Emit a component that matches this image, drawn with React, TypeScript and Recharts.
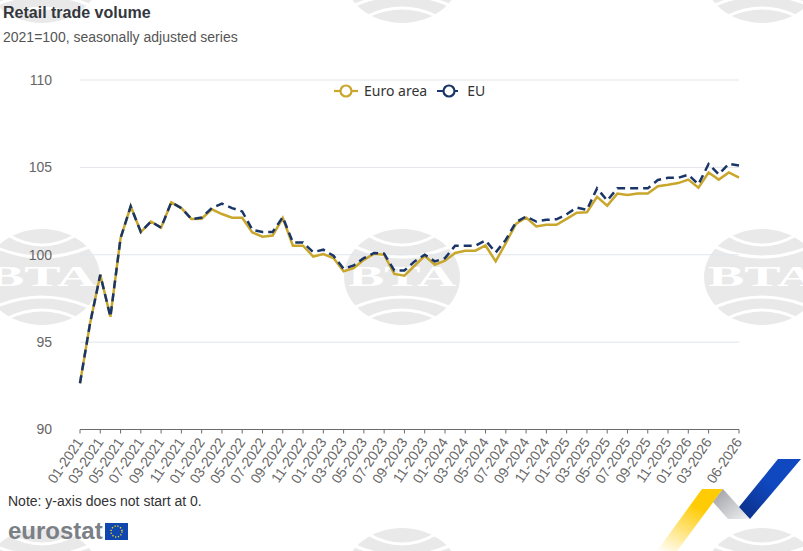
import { CartesianGrid, Legend, Line, LineChart, XAxis, YAxis } from 'recharts'

const months = [
    '01-2021', '02-2021', '03-2021', '04-2021', '05-2021', '06-2021', '07-2021', '08-2021', '09-2021', '10-2021', '11-2021', '12-2021',
    '01-2022', '02-2022', '03-2022', '04-2022', '05-2022', '06-2022', '07-2022', '08-2022', '09-2022', '10-2022', '11-2022', '12-2022',
    '01-2023', '02-2023', '03-2023', '04-2023', '05-2023', '06-2023', '07-2023', '08-2023', '09-2023', '10-2023', '11-2023', '12-2023',
    '01-2024', '02-2024', '03-2024', '04-2024', '05-2024', '06-2024', '07-2024', '08-2024', '09-2024', '10-2024', '11-2024', '12-2024',
    '01-2025', '02-2025', '03-2025', '04-2025', '05-2025', '06-2025', '07-2025', '08-2025', '09-2025', '10-2025', '11-2025', '12-2025',
    '01-2026', '02-2026', '03-2026', '04-2026', '05-2026', '06-2026',
]

const euroArea = [
    92.65, 96.1, 98.85, 96.45, 100.95, 102.77, 101.3, 101.9, 101.55, 103.0, 102.67, 102.04,
    102.06, 102.6, 102.33, 102.12, 102.12, 101.28, 101.03, 101.1, 102.1, 100.52, 100.52, 99.9,
    100.04, 99.81, 99.05, 99.24, 99.71, 100.06, 100.0, 98.9, 98.8, 99.37, 99.94, 99.43,
    99.66, 100.1, 100.23, 100.23, 100.53, 99.62, 100.67, 101.77, 102.13, 101.62, 101.71, 101.71,
    102.05, 102.41, 102.43, 103.31, 102.81, 103.5, 103.42, 103.5, 103.5, 103.92, 104.0, 104.1,
    104.3, 103.84, 104.71, 104.3, 104.71, 104.41,
]

const eu = [
    92.65, 96.1, 98.85, 96.45, 100.95, 102.77, 101.3, 101.9, 101.55, 103.0, 102.67, 102.04,
    102.13, 102.67, 102.92, 102.67, 102.48, 101.43, 101.3, 101.3, 102.15, 100.7, 100.7, 100.15,
    100.29, 99.94, 99.2, 99.39, 99.81, 100.1, 100.06, 99.1, 99.1, 99.62, 100.0, 99.62,
    99.81, 100.52, 100.52, 100.52, 100.82, 100.13, 100.86, 101.86, 102.19, 101.9, 102.0, 102.03,
    102.32, 102.7, 102.57, 103.8, 103.1, 103.8, 103.8, 103.8, 103.8, 104.28, 104.4, 104.4,
    104.58, 104.03, 105.19, 104.6, 105.2, 105.11,
]

const xTicks = [
    '01-2021', '03-2021', '05-2021', '07-2021', '09-2021', '11-2021',
    '01-2022', '03-2022', '05-2022', '07-2022', '09-2022', '11-2022',
    '01-2023', '03-2023', '05-2023', '07-2023', '09-2023', '11-2023',
    '01-2024', '03-2024', '05-2024', '07-2024', '09-2024', '11-2024',
    '01-2025', '03-2025', '05-2025', '07-2025', '09-2025', '11-2025',
    '01-2026', '03-2026', '06-2026',
]
const yTicks = [90, 95, 100, 105, 110]

const chartData = months.map((month, i) => ({ month, euroArea: euroArea[i], eu: eu[i] }))

const FONT = '"Liberation Sans", Arial, sans-serif'
const GOLD = '#c9a62c'
const NAVY = '#1a3668'
const WATERMARK = '#e9e9e9'

// BTA agency stamp repeated behind the chart
function Stamp({ cx, cy, label }: { cx: number; cy: number; label: boolean }) {
    return (
        <g transform={`translate(${cx} ${cy})`}>
            <ellipse rx={58} ry={48} fill={WATERMARK} />
            <path d="M-34 -42 Q0 -22 34 -42" fill="none" stroke="#fff" strokeWidth={3} />
            <path d="M-47 -30 Q0 -10 47 -30" fill="none" stroke="#fff" strokeWidth={3} />
            <path d="M-47 30 Q0 10 47 30" fill="none" stroke="#fff" strokeWidth={3} />
            <path d="M-34 41 Q0 25 34 41" fill="none" stroke="#fff" strokeWidth={3} />
            {label && (
                <text
                    y={9}
                    textAnchor="middle"
                    fontFamily='"Liberation Serif", serif'
                    fontWeight="bold"
                    fontSize={29}
                    textLength={108}
                    lengthAdjust="spacingAndGlyphs"
                    fill="#fff"
                >
                    BTA
                </text>
            )}
        </g>
    )
}

function Backdrop() {
    const xs = [42, 402, 762]
    const ys = [-25, 277, 576]
    return (
        <svg width={803} height={551} style={{ position: 'absolute', left: 0, top: 0 }}>
            {ys.map(y => xs.map(x => <Stamp key={`${x}-${y}`} cx={x} cy={y} label={y === 277} />))}
        </svg>
    )
}

function Overlay() {
    return (
        <svg width={803} height={551} style={{ position: 'absolute', left: 0, top: 0, pointerEvents: 'none' }}>
            <defs>
                <linearGradient id="ribbonGold" x1="0" y1="1" x2="0.45" y2="0.2">
                    <stop offset="0" stopColor="#ffcb05" stopOpacity={0} />
                    <stop offset="1" stopColor="#ffcb05" />
                </linearGradient>
                <linearGradient id="ribbonGrey" x1="0" y1="0" x2="1" y2="1">
                    <stop offset="0" stopColor="#9a9ca0" />
                    <stop offset="1" stopColor="#f2f2f4" />
                </linearGradient>
                <linearGradient id="ribbonBlue" x1="0" y1="1" x2="0.5" y2="0.4">
                    <stop offset="0" stopColor="#0c2f85" />
                    <stop offset="1" stopColor="#1048c0" />
                </linearGradient>
            </defs>
            <text x={3} y={18} fontFamily={FONT} fontWeight="bold" fontSize={16} fill="#33373d">Retail trade volume</text>
            <text x={3} y={42} fontFamily={FONT} fontSize={14} fill="#555">2021=100, seasonally adjusted series</text>
            <text x={8} y={506} fontFamily={FONT} fontSize={14} fill="#333">Note: y-axis does not start at 0.</text>
            <text x={8} y={539} fontFamily={FONT} fontWeight="bold" fontSize={24} fill="#7b7f86">eurostat</text>
            <rect x={105} y={523} width={23} height={17} fill="#0f47af" />
            <circle cx={116.5} cy={531.5} r={5.5} fill="none" stroke="#ffd617" strokeWidth={1.4} strokeDasharray="1.2 1.7" />
            <polygon points="702,489 723,489 677,551 657,551" fill="url(#ribbonGold)" />
            <polygon points="723,489 750,519 728,519 713,502" fill="url(#ribbonGrey)" />
            <polygon points="778,459 801,459 750,519 739,507" fill="url(#ribbonBlue)" />
        </svg>
    )
}

function ChartLegend({ payload }: any) {
    return (
        <div style={{ display: 'flex', alignItems: 'center', fontFamily: '"Noto Sans", sans-serif', fontSize: 14, color: '#333' }}>
            {(payload || []).map((entry: any) => (
                <span key={entry.value} style={{ display: 'flex', alignItems: 'center', marginRight: 10 }}>
                    <svg width={24} height={14} style={{ marginRight: 6 }}>
                        <line x1={0} x2={24} y1={7} y2={7} stroke={entry.color} strokeWidth={2.2} strokeDasharray={entry.payload?.strokeDasharray} />
                        <circle cx={12} cy={7} r={5.5} fill="#fff" stroke={entry.color} strokeWidth={2.2} />
                    </svg>
                    {entry.value}
                </span>
            ))}
        </div>
    )
}

function MonthTick({ x, y, payload }: any) {
    return (
        <text
            x={x}
            y={y + 4}
            dy={4.5}
            textAnchor="end"
            transform={`rotate(-56 ${x} ${y + 4})`}
            fill="#666"
            fontSize={14}
            fontFamily={FONT}
        >
            {payload.value}
        </text>
    )
}

export default function App() {
    return (
        <div style={{ position: 'absolute', left: 0, top: 0, width: 803, height: 551, background: '#fff', overflow: 'hidden' }}>
            <Backdrop />
            <div style={{ position: 'absolute', left: 0, top: 0 }}>
                <LineChart width={803} height={551} data={chartData} margin={{ top: 80, right: 64, bottom: 0, left: 30 }}>
                    <CartesianGrid horizontal vertical={false} stroke="#e1e5ea" strokeWidth={1} />
                    <XAxis
                        dataKey="month"
                        ticks={xTicks}
                        interval={0}
                        height={121.5}
                        padding={{ left: 0, right: 0 }}
                        tickSize={4}
                        stroke="#6b6b6b"
                        tick={<MonthTick />}
                    />
                    <YAxis
                        domain={[90, 110]}
                        ticks={yTicks}
                        width={50}
                        axisLine={false}
                        tickLine={false}
                        tickMargin={22}
                        tick={{ fill: '#666', fontSize: 14, fontFamily: FONT }}
                    />
                    <Legend
                        layout="horizontal"
                        verticalAlign="middle"
                        itemSorter={null}
                        content={<ChartLegend />}
                        wrapperStyle={{ position: 'absolute', top: 81, left: 334, width: 170 }}
                    />
                    <Line name="Euro area" type="linear" dataKey="euroArea" stroke={GOLD} strokeWidth={2.5} dot={false} isAnimationActive={false} />
                    <Line name="EU" type="linear" dataKey="eu" stroke={NAVY} strokeWidth={2.5} strokeDasharray="8 5" dot={false} isAnimationActive={false} />
                </LineChart>
            </div>
            <Overlay />
        </div>
    )
}
